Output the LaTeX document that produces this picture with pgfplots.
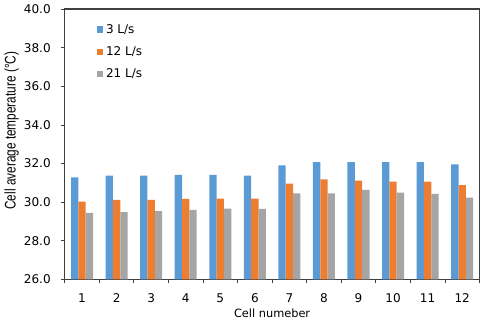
\documentclass[border=0pt]{standalone}
\usepackage{graphicx}
\usepackage{pgfplots}
\pgfplotsset{compat=1.18}
\usepackage{fontspec}
\setmainfont{DejaVu Sans}
\newfontfamily\labelfont{Liberation Sans}

\definecolor{flowA}{HTML}{5B9BD5}
\definecolor{flowB}{HTML}{ED7D31}
\definecolor{flowC}{HTML}{A5A5A5}
\definecolor{frame}{HTML}{404040}

\begin{document}
\begin{tikzpicture}
\begin{axis}[
  scale only axis, width=310.5pt, height=202.5pt,
  ybar=0pt, bar width=5.5pt,
  xmin=0.5, xmax=12.5, ymin=26, ymax=40,
  xtick={1,...,12}, major x tick style={draw=none},
  minor xtick={0.5,1.5,...,12.5},
  ytick={26,28,...,40},
  tick align=outside, xtick pos=bottom, ytick pos=left,
  major tick length=3pt, minor tick length=3pt,
  axis line style={frame, line width=0.8pt},
  every tick/.style={frame, line width=0.6pt},
  yticklabel style={xshift=-4pt, /pgf/number format/.cd, fixed, fixed zerofill, precision=1, assume math mode=true},
  xticklabel style={yshift=-4pt, /pgf/number format/assume math mode=true},
  tick label style={font=\fontsize{9}{10}\selectfont},
  xlabel={Cell numeber},
  xlabel style={font=\fontsize{8.5}{10}\selectfont, yshift=2pt},
  ylabel={\scalebox{0.77}[1]{\labelfont Cell average temperature (\textdegree C)}},
  ylabel style={font=\fontsize{11.5}{12}\selectfont, at={(ticklabel cs:0.55)}, yshift=-3pt},
  legend style={at={(0.077,0.955)}, anchor=north west, draw=none, fill=none,
    font=\fontsize{9}{10}\selectfont, row sep=4.5pt, inner sep=0pt},
  legend cell align=left,
  legend image code/.code={\fill[#1] (0pt,-2.4pt) rectangle (4.8pt,2.4pt);},
]
\addplot[fill=flowA, draw=none] coordinates {
  (1,31.29) (2,31.37) (3,31.37) (4,31.41) (5,31.41) (6,31.37)
  (7,31.91) (8,32.07) (9,32.07) (10,32.07) (11,32.07) (12,31.96)};
\addplot[fill=flowB, draw=none] coordinates {
  (1,30.03) (2,30.12) (3,30.12) (4,30.17) (5,30.19) (6,30.19)
  (7,30.96) (8,31.18) (9,31.11) (10,31.06) (11,31.06) (12,30.88)};
\addplot[fill=flowC, draw=none] coordinates {
  (1,29.44) (2,29.49) (3,29.54) (4,29.60) (5,29.67) (6,29.65)
  (7,30.45) (8,30.45) (9,30.64) (10,30.50) (11,30.43) (12,30.24)};
\legend{3 L/s, 12 L/s, 21 L/s}
\end{axis}
\end{tikzpicture}
\end{document}
